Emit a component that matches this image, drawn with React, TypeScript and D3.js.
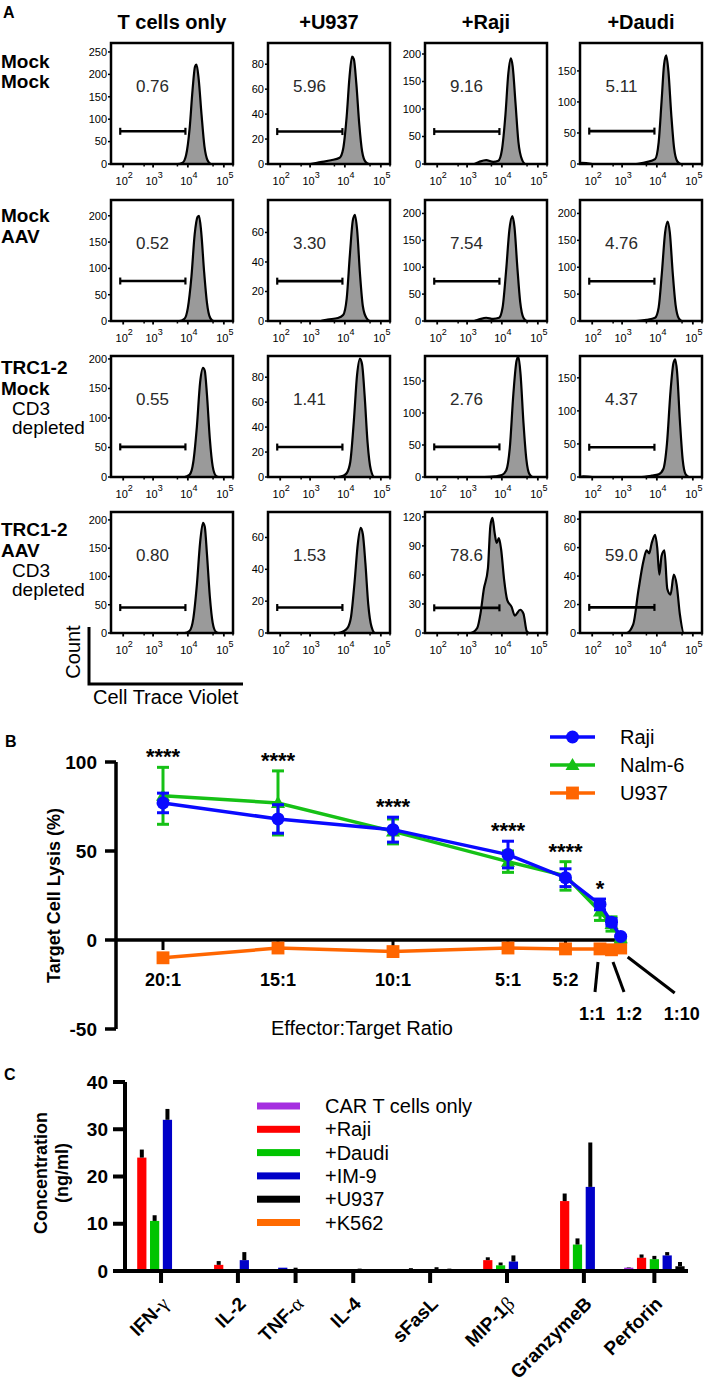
import React from 'react';
import * as d3 from 'd3';

const FONT = "'Liberation Sans', Arial, Helvetica, sans-serif";
const SERIF = "'Liberation Serif', 'DejaVu Serif', serif";

// ================= Panel A data =================
const colHeaders = ['T cells only', '+U937', '+Raji', '+Daudi'];
const rowLabelsBold = [['Mock', 'Mock'], ['Mock', 'AAV'], ['TRC1-2', 'Mock'], ['TRC1-2', 'AAV']];
const rowLabelsSub = [[], [], ['CD3', 'depleted'], ['CD3', 'depleted']];
const gatePercents = [
  ['0.76', '5.96', '9.16', '5.11'],
  ['0.52', '3.30', '7.54', '4.76'],
  ['0.55', '1.41', '2.76', '4.37'],
  ['0.80', '1.53', '78.6', '59.0'],
];
const countMax = [[270, 97, 220, 195], [230, 82, 225, 225], [205, 97, 189, 183], [214, 76, 125, 85]];
const countTickStep = [[50, 20, 50, 50], [50, 20, 50, 50], [50, 20, 50, 50], [50, 20, 30, 20]];
const countTickTop = [[250, 80, 200, 150], [200, 60, 200, 200], [200, 80, 150, 150], [200, 60, 120, 80]];
const gateCounts = [[73, 26, 59, 53], [76, 27, 74, 74], [51, 24, 47, 45], [45, 16, 26, 18]];
const gateRange = [1.9, 3.93];
const decades = [2, 3, 4, 5];

// histograms: [log10 fluorescence, count]
const histRow1 = [
  [[1.6, 0], [3.7, 0], [3.85, 3], [3.95, 20], [4.05, 80], [4.13, 165], [4.2, 218], [4.24, 222], [4.3, 190], [4.38, 110], [4.46, 40], [4.55, 8], [4.65, 0], [5.25, 0]],
  [[1.6, 0], [3.0, 0], [3.3, 1.5], [3.6, 3], [3.85, 5], [3.95, 12], [4.05, 38], [4.13, 70], [4.2, 86], [4.25, 84], [4.32, 64], [4.4, 32], [4.48, 10], [4.58, 1.5], [4.68, 0], [5.25, 0]],
  [[1.6, 0], [3.2, 0], [3.35, 4], [3.55, 7], [3.75, 4], [3.9, 6], [4.0, 25], [4.1, 90], [4.18, 165], [4.25, 192], [4.3, 178], [4.38, 110], [4.46, 40], [4.56, 8], [4.66, 0], [5.25, 0]],
  [[1.6, 0], [1.65, 2], [1.85, 1], [2.0, 0], [3.4, 0], [3.7, 3], [3.95, 8], [4.05, 35], [4.13, 100], [4.2, 160], [4.26, 175], [4.32, 150], [4.4, 80], [4.48, 25], [4.57, 4], [4.67, 0], [5.25, 0]],
];
const histRow2 = [
  [[1.6, 0], [3.75, 0], [3.9, 4], [4.0, 25], [4.1, 85], [4.19, 165], [4.27, 198], [4.31, 200], [4.37, 170], [4.45, 95], [4.53, 35], [4.62, 6], [4.72, 0], [5.25, 0]],
  [[1.6, 0], [3.3, 0], [3.5, 1], [3.8, 2], [3.95, 4], [4.05, 15], [4.14, 45], [4.22, 68], [4.28, 72], [4.34, 62], [4.42, 32], [4.5, 10], [4.6, 2], [4.7, 0], [5.25, 0]],
  [[1.6, 0], [3.2, 0], [3.35, 3], [3.55, 6], [3.75, 4], [3.92, 6], [4.02, 25], [4.12, 95], [4.21, 170], [4.29, 195], [4.35, 175], [4.43, 100], [4.51, 35], [4.6, 6], [4.7, 0], [5.25, 0]],
  [[1.6, 0], [3.4, 0], [3.7, 2], [3.95, 6], [4.05, 25], [4.14, 90], [4.23, 165], [4.3, 185], [4.36, 165], [4.44, 90], [4.52, 30], [4.61, 5], [4.71, 0], [5.25, 0]],
];
const histRow3 = [
  [[1.6, 0], [3.9, 0], [4.05, 4], [4.15, 25], [4.25, 85], [4.34, 160], [4.42, 185], [4.47, 180], [4.53, 140], [4.61, 65], [4.69, 18], [4.78, 2], [4.86, 0], [5.25, 0]],
  [[1.6, 0], [3.8, 0], [3.95, 1], [4.05, 3], [4.15, 12], [4.25, 45], [4.34, 82], [4.42, 95], [4.48, 90], [4.55, 65], [4.63, 28], [4.72, 6], [4.82, 0], [5.25, 0]],
  [[1.6, 0], [3.5, 0], [3.8, 1], [4.0, 3], [4.12, 10], [4.22, 45], [4.32, 130], [4.41, 182], [4.46, 188], [4.52, 160], [4.6, 85], [4.68, 28], [4.77, 4], [4.86, 0], [5.25, 0]],
  [[1.6, 0], [1.7, 1], [2.0, 0], [3.5, 0], [3.85, 2], [4.05, 4], [4.18, 12], [4.28, 50], [4.38, 130], [4.46, 172], [4.51, 178], [4.56, 160], [4.64, 85], [4.72, 25], [4.8, 4], [4.9, 0], [5.25, 0]],
];
const histRow4 = [
  [[1.6, 0], [3.9, 0], [4.05, 4], [4.15, 25], [4.25, 85], [4.34, 160], [4.42, 195], [4.47, 188], [4.53, 140], [4.61, 65], [4.69, 18], [4.78, 2], [4.86, 0], [5.25, 0]],
  [[1.6, 0], [3.8, 0], [3.95, 1], [4.07, 3], [4.17, 10], [4.27, 32], [4.36, 56], [4.44, 66], [4.5, 62], [4.57, 44], [4.65, 18], [4.74, 4], [4.84, 0], [5.25, 0]],
  [[1.6, 0], [3.1, 0], [3.29, 5], [3.385, 20], [3.48, 45], [3.6, 67], [3.67, 111], [3.73, 119], [3.79, 104], [3.85, 93], [3.915, 98], [3.98, 86], [4.06, 56], [4.15, 34], [4.27, 27], [4.36, 18], [4.51, 24], [4.6, 20], [4.69, 2], [4.76, 0], [5.25, 0]],
  [[1.6, 0], [3.13, 0], [3.32, 6], [3.47, 30], [3.61, 50], [3.705, 58], [3.78, 56], [3.85, 63], [3.95, 69], [4.01, 60], [4.07, 41], [4.13, 54], [4.21, 58], [4.29, 31], [4.38, 27], [4.47, 41], [4.55, 34], [4.64, 13], [4.75, 0], [5.25, 0]],
];
const histRows = [histRow1, histRow2, histRow3, histRow4];

// ================= Panel B data =================
const ratios = [20, 15, 10, 5, 2.5, 1, 0.5, 0.1];
const ratioLabels = ['20:1', '15:1', '10:1', '5:1', '5:2', '1:1', '1:2', '1:10'];
const rajiLysis = [77, 68, 62, 48, 35, 20, 10, 2];
const rajiErr = [5.5, 8, 7, 7.5, 5, 3, 2, 0.5];
const nalmLysis = [81, 77, 61, 44, 36, 16, 9, 1];
const nalmErr = [16, 18, 7, 6, 8, 5, 4, 1];
const u937Lysis = [-10, -4.5, -6.5, -4.5, -5, -5, -5.5, -4.5];
const u937Err = [1.5, 2, 1.5, 1, 1, 1, 1, 1];
const significance = ['****', '****', '****', '****', '****', '*', '', ''];
const yTicksB = [-50, 0, 50, 100];

// ================= Panel C data =================
const cytokines = ['IFN-γ', 'IL-2', 'TNF-α', 'IL-4', 'sFasL', 'MIP-1β', 'GranzymeB', 'Perforin'];
const cytoSeries = ['CAR T cells only', '+Raji', '+Daudi', '+IM-9', '+U937', '+K562'];
const cytoColors = ['#a52ee0', '#ff0000', '#00c400', '#0000c8', '#000000', '#ff6a00'];
const carTOnly = [0, 0, null, 0, 0, 0, 0.1, 0.7];
const plusRaji = [24, 1.3, null, 0, 0.3, 2.3, 14.8, 2.8];
const plusDaudi = [10.6, 0, null, 0.1, 0.2, 1.2, 5.6, 2.5];
const plusIM9 = [32, 2.3, 0.7, 0.3, 0.4, 2.0, 17.8, 3.3];
const plusU937 = [0, 0, 0.3, 0, 0.2, 0.1, 0.1, 1.0];
const plusK562 = [0, 0, 0, 0, 0, 0, 0, null];
const carTOnlyErr = [0, 0, null, 0, 0, 0, 0.1, 0.1];
const plusRajiErr = [1.7, 0.8, null, 0, 0.3, 0.6, 1.6, 0.7];
const plusDaudiErr = [1.2, 0, null, 0.2, 0.2, 0.6, 1.3, 0.7];
const plusIM9Err = [2.3, 1.7, 0, 0.2, 0.4, 1.3, 9.4, 0.7];
const plusU937Err = [0, 0, 0.4, 0, 0.3, 0.3, 0.3, 0.9];
const plusK562Err = [0, 0, 0, 0, 0, 0, 0, null];
const yTicksC = [0, 10, 20, 30, 40];

// ================= Layout =================
const HW = 122, HH = 121;
const colX = [111, 268, 425, 580];
const rowY = [43, 200, 356, 512];
const rowLabelBaselines = [[68, 88], [222, 243], [374, 395], [536, 557]];
const rowSubBaselines = [[], [], [415, 434], [577, 596]];

const xLog = d3.scaleLinear()
  .domain([1.59, 2, 3, 4, 5, 5.25])
  .range([0, 0.1, 0.345, 0.63, 0.925, 1].map(f => f * HW))
  .clamp(true);

function Histo({ r, c }: { r: number; c: number }) {
  const data = histRows[r][c];
  const y = d3.scaleLinear().domain([0, countMax[r][c]]).range([HH, 0]);
  const area = d3.area<number[]>().x(d => xLog(d[0])).y0(HH).y1(d => y(d[1])).curve(d3.curveMonotoneX);
  const line = d3.line<number[]>().x(d => xLog(d[0])).y(d => y(d[1])).curve(d3.curveMonotoneX);
  const ticks = d3.range(0, countTickTop[r][c] + 1, countTickStep[r][c]);
  const gy = y(gateCounts[r][c]);
  const gx0 = xLog(gateRange[0]);
  const gx1 = xLog(gateRange[1]);
  const id = `hclip-${r}-${c}`;
  return (
    <g transform={`translate(${colX[c]},${rowY[r]})`}>
      <clipPath id={id}><rect x={0} y={0} width={HW} height={HH} /></clipPath>
      <g clipPath={`url(#${id})`}>
        <path d={area(data) || ''} fill="#9a9a9a" />
        <path d={line(data) || ''} fill="none" stroke="#000" strokeWidth={2.2} strokeLinejoin="round" />
      </g>
      <text x={HW * 0.34} y={49} textAnchor="middle" fontSize={17} fill="#2a2a2a">{gatePercents[r][c]}</text>
      <line x1={gx0} x2={gx1} y1={gy} y2={gy} stroke="#000" strokeWidth={2.6} />
      <line x1={gx0} x2={gx0} y1={gy - 3.5} y2={gy + 3.5} stroke="#000" strokeWidth={2.2} />
      <line x1={gx1} x2={gx1} y1={gy - 3.5} y2={gy + 3.5} stroke="#000" strokeWidth={2.2} />
      <rect x={0} y={0} width={HW} height={HH} fill="none" stroke="#000" strokeWidth={2.5} />
      {ticks.map(t => (
        <g key={t}>
          <line x1={-3} x2={0} y1={y(t)} y2={y(t)} stroke="#000" strokeWidth={1.5} />
          <text x={-4} y={y(t)} dy="0.35em" textAnchor="end" fontSize={11}>{t}</text>
        </g>
      ))}
      {decades.map(d => (
        <g key={d}>
          <line x1={xLog(d)} x2={xLog(d)} y1={HH} y2={HH + 3.5} stroke="#000" strokeWidth={1.8} />
          <line x1={xLog(d + 0.7)} x2={xLog(d + 0.7)} y1={HH} y2={HH + 2.5} stroke="#000" strokeWidth={1.5} />
          <text x={xLog(d) + 1} y={HH + 21} textAnchor="middle" fontSize={11}>
            <tspan>10</tspan>
            <tspan dy={-7} fontSize={9}>{d}</tspan>
          </text>
        </g>
      ))}
    </g>
  );
}

function PanelA() {
  return (
    <g>
      <text x={3} y={18} fontSize={16} fontWeight="bold">A</text>
      {colHeaders.map((h, c) => (
        <text key={h} x={colX[c] + HW / 2} y={29} textAnchor="middle" fontSize={20} fontWeight="bold">{h}</text>
      ))}
      {rowLabelsBold.map((lines, r) => (
        <g key={r}>
          {lines.map((l, i) => (
            <text key={i} x={1} y={rowLabelBaselines[r][i]} fontSize={19} fontWeight="bold">{l}</text>
          ))}
          {rowLabelsSub[r].map((l, i) => (
            <text key={'s' + i} x={12} y={rowSubBaselines[r][i]} fontSize={19}>{l}</text>
          ))}
        </g>
      ))}
      {histRows.map((row, r) => row.map((_, c) => <Histo key={`${r}-${c}`} r={r} c={c} />))}
      <path d="M89,627 L89,684 L243,684" fill="none" stroke="#000" strokeWidth={3} />
      <text transform="translate(80,652) rotate(-90)" textAnchor="middle" fontSize={20}>Count</text>
      <text x={93} y={704} fontSize={20}>Cell Trace Violet</text>
    </g>
  );
}

// ================= Panel B =================
const xB = d3.scaleLinear().domain([0, 20]).range([623, 163]);
const yB = d3.scaleLinear().domain([-50, 100]).range([1029, 762]);
const leaderDefs = [
  { x1: -2, y1: 962, x2: -5, y2: 992, lx: -8 },
  { x1: 1.5, y1: 962, x2: 12.5, y2: 992, lx: 17.5 },
  { x1: 7, y1: 957, x2: 54, y2: 993, lx: 61 },
];

const seriesB = [
  { name: 'U937', vals: u937Lysis, err: u937Err, color: '#ff6600', shape: 'square' },
  { name: 'Nalm-6', vals: nalmLysis, err: nalmErr, color: '#16c116', shape: 'triangle' },
  { name: 'Raji', vals: rajiLysis, err: rajiErr, color: '#0a0aff', shape: 'circle' },
];

function Marker({ shape, x, y, color }: { shape: string; x: number; y: number; color: string }) {
  if (shape === 'circle') return <circle cx={x} cy={y} r={6.5} fill={color} />;
  const sym = shape === 'square' ? d3.symbolSquare : d3.symbolTriangle;
  const size = shape === 'square' ? 165 : 85;
  return <path d={d3.symbol().type(sym).size(size)() || ''} transform={`translate(${x},${y + (shape === 'triangle' ? 1 : 0)})`} fill={color} />;
}

function PanelB() {
  const lineGen = d3.line<number>().x((_, i) => xB(ratios[i])).y(d => yB(d));
  const legendOrder = [seriesB[2], seriesB[1], seriesB[0]];
  return (
    <g>
      <text x={5} y={747} fontSize={16} fontWeight="bold">B</text>
      <line x1={116} x2={116} y1={yB(100)} y2={yB(-50)} stroke="#000" strokeWidth={3.5} />
      {yTicksB.map(t => (
        <g key={t}>
          <line x1={105} x2={116} y1={yB(t)} y2={yB(t)} stroke="#000" strokeWidth={3.5} />
          <text x={97} y={yB(t)} dy="0.35em" textAnchor="end" fontSize={19} fontWeight="bold">{t}</text>
        </g>
      ))}
      <line x1={116} x2={xB(0.2)} y1={yB(0)} y2={yB(0)} stroke="#000" strokeWidth={3.5} />
      {ratios.slice(0, 5).map((r, i) => (
        <g key={r}>
          <line x1={xB(r)} x2={xB(r)} y1={yB(0)} y2={yB(0) + 10} stroke="#000" strokeWidth={3} />
          <text x={xB(r)} y={986} textAnchor="middle" fontSize={18} fontWeight="bold">{ratioLabels[i]}</text>
        </g>
      ))}
      {ratios.slice(5).map((r, j) => {
        const L = leaderDefs[j];
        const x = xB(r);
        return (
          <g key={r}>
            <line x1={x + L.x1} y1={L.y1} x2={x + L.x2} y2={L.y2} stroke="#000" strokeWidth={3} />
            <text x={x + L.lx} y={1020} textAnchor="middle" fontSize={18} fontWeight="bold">{ratioLabels[5 + j]}</text>
          </g>
        );
      })}
      <text transform={`translate(60,${(yB(100) + yB(-50)) / 2}) rotate(-90)`} textAnchor="middle" fontSize={18} fontWeight="bold">Target Cell Lysis (%)</text>
      <text x={362} y={1035} textAnchor="middle" fontSize={20}>Effector:Target Ratio</text>
      {seriesB.map(s => (
        <g key={s.name}>
          <path d={lineGen(s.vals) || ''} fill="none" stroke={s.color} strokeWidth={3.5} />
          {s.vals.map((v, i) => {
            const x = xB(ratios[i]);
            const yt = yB(v + s.err[i]);
            const yb = yB(v - s.err[i]);
            return (
              <g key={i}>
                <line x1={x} x2={x} y1={yt} y2={yb} stroke={s.color} strokeWidth={3} />
                <line x1={x - 6} x2={x + 6} y1={yt} y2={yt} stroke={s.color} strokeWidth={3} />
                <line x1={x - 6} x2={x + 6} y1={yb} y2={yb} stroke={s.color} strokeWidth={3} />
                <Marker shape={s.shape} x={x} y={yB(v)} color={s.color} />
              </g>
            );
          })}
        </g>
      ))}
      {significance.map((s, i) => s ? (
        <text key={i} x={xB(ratios[i])} y={yB(Math.max(rajiLysis[i] + rajiErr[i], nalmLysis[i] + nalmErr[i])) - 3} textAnchor="middle" fontSize={22} fontWeight="bold">{s}</text>
      ) : null)}
      {legendOrder.map((s, i) => {
        const ly = 737 + i * 28;
        return (
          <g key={s.name}>
            <line x1={550} x2={595} y1={ly} y2={ly} stroke={s.color} strokeWidth={3.5} />
            <Marker shape={s.shape} x={572.5} y={ly} color={s.color} />
            <text x={620} y={ly + 7} fontSize={20}>{s.name}</text>
          </g>
        );
      })}
    </g>
  );
}

// ================= Panel C =================
const cytoVals = [carTOnly, plusRaji, plusDaudi, plusIM9, plusU937, plusK562];
const cytoErrs = [carTOnlyErr, plusRajiErr, plusDaudiErr, plusIM9Err, plusU937Err, plusK562Err];
const yC = d3.scaleLinear().domain([0, 40]).range([1271, 1082]);

function PanelC() {
  const slots: { key: string; cat: number; s: number; v: number; e: number }[] = [];
  cytokines.forEach((_, ci) => {
    cytoSeries.forEach((_, si) => {
      const v = cytoVals[si][ci];
      if (v !== null && v !== undefined) slots.push({ key: `${ci}-${si}`, cat: ci, s: si, v, e: cytoErrs[si][ci] || 0 });
    });
  });
  const step = 12.81;
  const bandPad = 0.28;
  const bw = step * (1 - bandPad);
  const xC = d3.scaleBand().domain(slots.map(d => d.key)).range([129 - bw / 2, 680 + bw / 2]).paddingInner(bandPad).paddingOuter(0);
  const centers = cytokines.map((_, ci) => {
    const sl = slots.filter(d => d.cat === ci);
    return d3.mean(sl, d => (xC(d.key) || 0) + xC.bandwidth() / 2) || 0;
  });
  return (
    <g>
      <text x={4} y={1080} fontSize={16} fontWeight="bold">C</text>
      {slots.map(d => {
        const x = xC(d.key) || 0;
        return (
          <g key={d.key}>
            {d.v > 0 && <rect x={x} y={yC(d.v)} width={xC.bandwidth()} height={yC(0) - yC(d.v)} fill={cytoColors[d.s]} />}
            {d.e > 0 && <line x1={x + xC.bandwidth() / 2} x2={x + xC.bandwidth() / 2} y1={yC(d.v)} y2={yC(d.v + d.e)} stroke="#000" strokeWidth={4} />}
          </g>
        );
      })}
      <line x1={125} x2={125} y1={yC(40)} y2={yC(0) + 2} stroke="#000" strokeWidth={4} />
      {yTicksC.map(t => (
        <g key={t}>
          <line x1={113} x2={125} y1={yC(t)} y2={yC(t)} stroke="#000" strokeWidth={4} />
          <text x={108} y={yC(t)} dy="0.35em" textAnchor="end" fontSize={19} fontWeight="bold">{t}</text>
        </g>
      ))}
      <line x1={113} x2={688} y1={yC(0)} y2={yC(0)} stroke="#000" strokeWidth={4} />
      {cytokines.map((c, ci) => {
        const m = c.match(/^(.*?)([α-ω])$/);
        const base = m ? m[1] : c;
        const greek = m ? m[2] : '';
        return (
          <g key={c}>
            <line x1={centers[ci]} x2={centers[ci]} y1={yC(0)} y2={yC(0) + 12} stroke="#000" strokeWidth={4} />
            <text transform={`translate(${centers[ci] + 9},1305) rotate(-45)`} textAnchor="end" fontSize={19} fontWeight="bold">
              <tspan>{base}</tspan>
              {greek && <tspan fontFamily={SERIF} fontWeight="normal" fontSize={20}>{greek}</tspan>}
            </text>
          </g>
        );
      })}
      <text transform="translate(47,1173) rotate(-90)" textAnchor="middle" fontSize={18} fontWeight="bold">Concentration</text>
      <text transform="translate(68,1173) rotate(-90)" textAnchor="middle" fontSize={18} fontWeight="bold">(ng/ml)</text>
      {cytoSeries.map((s, i) => {
        const ly = 1106 + i * 23.3;
        return (
          <g key={s}>
            <rect x={257} y={ly - 3.5} width={43} height={7} fill={cytoColors[i]} />
            <text x={325} y={ly + 7} fontSize={20}>{s}</text>
          </g>
        );
      })}
    </g>
  );
}

export default function App() {
  return (
    <svg width={704} height={1384} viewBox="0 0 704 1384" style={{ position: 'absolute', left: 0, top: 0, background: '#fff', display: 'block' }} fontFamily={FONT}>
      <rect x={0} y={0} width={704} height={1384} fill="#fff" />
      <PanelA />
      <PanelB />
      <PanelC />
    </svg>
  );
}
